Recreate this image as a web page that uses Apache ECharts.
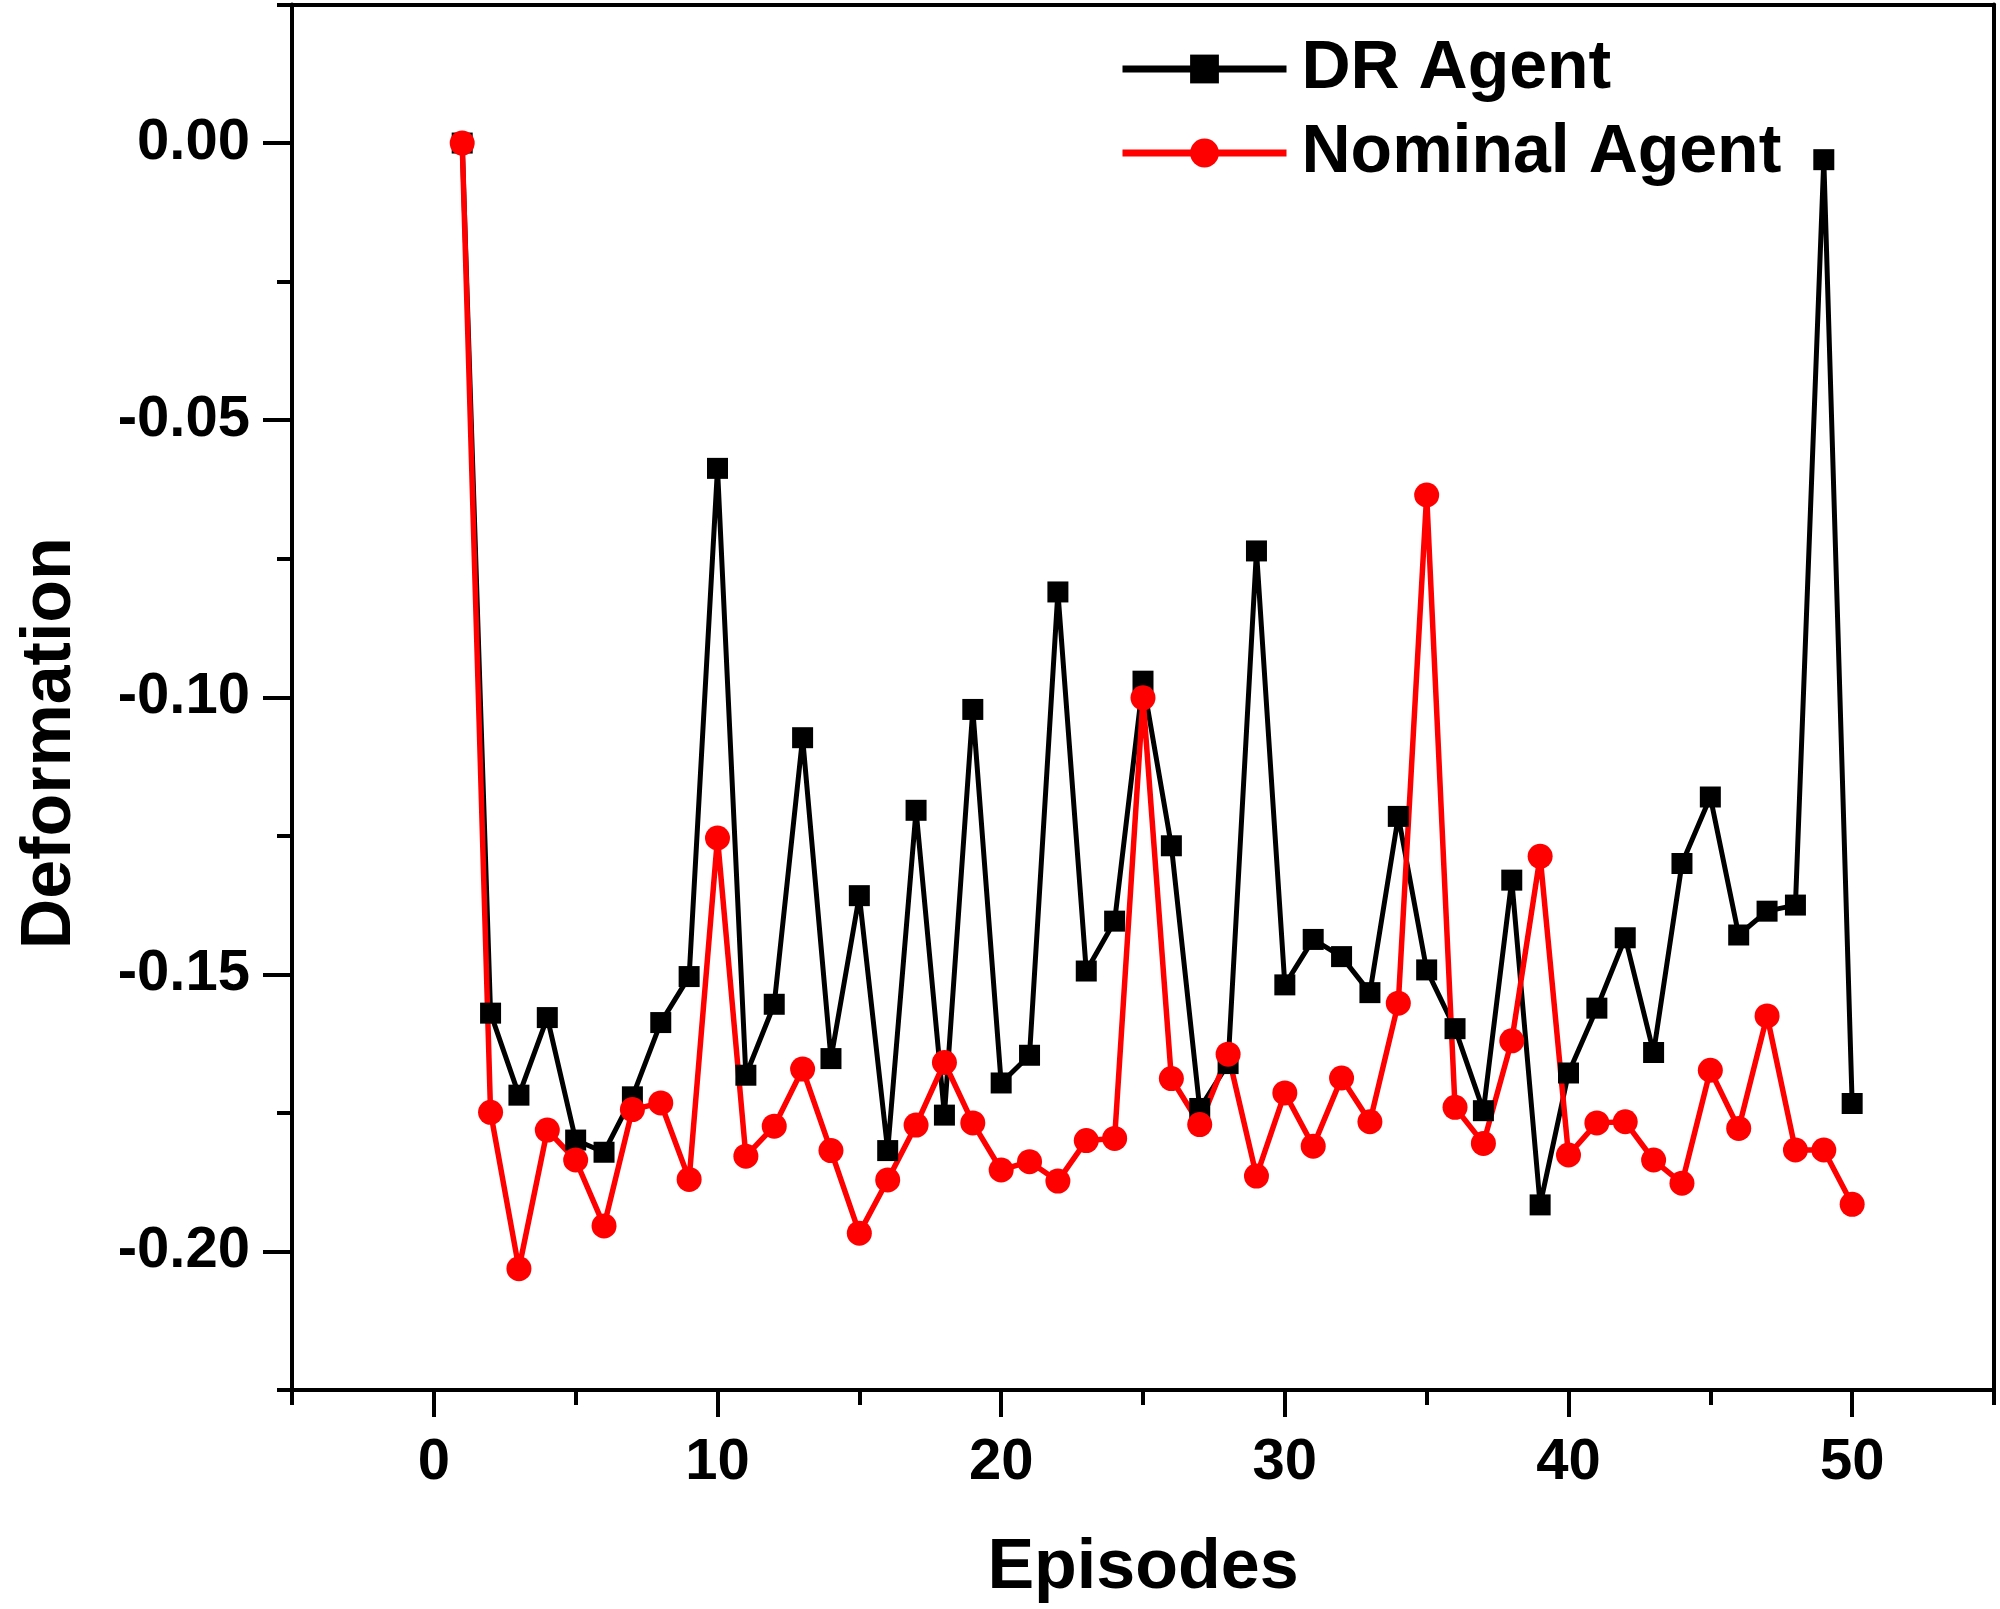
<!DOCTYPE html>
<html>
<head>
<meta charset="utf-8">
<script src="https://cdn.jsdelivr.net/npm/echarts@6/dist/echarts.min.js"></script>
<style>
  html, body { margin: 0; padding: 0; background: #fff; }
  #main { width: 2000px; height: 1609px; }
</style>
</head>
<body>
<div id="main"></div>
<script>
// episodes 1..50
var episodes = [1, 2, 3, 4, 5, 6, 7, 8, 9, 10, 11, 12, 13, 14, 15, 16, 17, 18, 19, 20,
  21, 22, 23, 24, 25, 26, 27, 28, 29, 30, 31, 32, 33, 34, 35, 36, 37, 38, 39, 40,
  41, 42, 43, 44, 45, 46, 47, 48, 49, 50];

// DR Agent (black squares)
var drAgent = [0, -0.1570, -0.1718, -0.1578, -0.1799, -0.1821, -0.1721, -0.1587, -0.1504, -0.0587,
  -0.1682, -0.1554, -0.1073, -0.1652, -0.1358, -0.1818, -0.1204, -0.1754, -0.1022, -0.1696,
  -0.1646, -0.0810, -0.1494, -0.1404, -0.0971, -0.1268, -0.1742, -0.1661, -0.0736, -0.1519,
  -0.1437, -0.1468, -0.1533, -0.1215, -0.1492, -0.1598, -0.1746, -0.1330, -0.1916, -0.1678,
  -0.1561, -0.1434, -0.1641, -0.1300, -0.1180, -0.1429, -0.1386, -0.1375, -0.0030, -0.1733];

// Nominal Agent (red circles)
var nominalAgent = [0, -0.1749, -0.2031, -0.1781, -0.1835, -0.1954, -0.1744, -0.1732, -0.1870, -0.1254,
  -0.1828, -0.1774, -0.1671, -0.1818, -0.1967, -0.1871, -0.1772, -0.1659, -0.1768, -0.1853,
  -0.1838, -0.1873, -0.1800, -0.1796, -0.1001, -0.1688, -0.1771, -0.1644, -0.1864, -0.1714,
  -0.1810, -0.1687, -0.1766, -0.1552, -0.0635, -0.1740, -0.1805, -0.1620, -0.1287, -0.1826,
  -0.1768, -0.1766, -0.1835, -0.1877, -0.1673, -0.1778, -0.1575, -0.1817, -0.1817, -0.1915];

var seriesNames = ['DR Agent', 'Nominal Agent'];

// tick values
var xMajorTicks = [0, 10, 20, 30, 40, 50];
var xMinorTicks = [-5, 5, 15, 25, 35, 45, 55];
var yMajorTicks = [0, -0.05, -0.10, -0.15, -0.20];
var yMinorTicks = [0.025, -0.025, -0.075, -0.125, -0.175, -0.225];

var FONT = 'Liberation Sans';

function pairs(xs, ys) {
  return xs.map(function (x, i) { return [x, ys[i]]; });
}

var chart = echarts.init(document.getElementById('main'), null, { renderer: 'canvas' });

var axisLine = { show: true, onZero: false, lineStyle: { color: '#000', width: 4 } };

var option = {
  backgroundColor: '#fff',
  animation: false,
  grid: { left: 292, right: 6, top: 4.5, bottom: 219, containLabel: false },
  legend: {
    data: seriesNames,
    orient: 'vertical',
    left: 1114,
    top: 30,
    itemWidth: 164,
    itemHeight: 36,
    itemGap: 16,
    lineStyle: { width: 7 },
    textStyle: {
      fontFamily: FONT,
      fontWeight: 'bold',
      fontSize: 68,
      lineHeight: 68,
      color: '#000',
      padding: [0, 0, 0, 10]
    }
  },
  xAxis: [{
    type: 'value',
    min: -5,
    max: 55,
    position: 'bottom',
    name: 'Episodes',
    nameLocation: 'middle',
    nameGap: 144,
    nameTextStyle: { fontFamily: FONT, fontWeight: 'bold', fontSize: 70, color: '#000' },
    axisLine: axisLine,
    axisTick: { show: true, inside: false, length: 27, customValues: xMajorTicks, lineStyle: { color: '#000', width: 4 } },
    axisLabel: {
      customValues: xMajorTicks,
      margin: 44,
      fontFamily: FONT, fontWeight: 'bold', fontSize: 58, color: '#000'
    },
    splitLine: { show: false }
  }, {
    type: 'value',
    min: -5,
    max: 55,
    position: 'bottom',
    axisLine: { show: false, onZero: false },
    axisTick: { show: true, length: 15, customValues: xMinorTicks, lineStyle: { color: '#000', width: 4 } },
    axisLabel: { show: false },
    splitLine: { show: false }
  }, {
    type: 'value',
    min: -5,
    max: 55,
    position: 'top',
    axisLine: axisLine,
    axisTick: { show: false },
    axisLabel: { show: false },
    splitLine: { show: false }
  }],
  yAxis: [{
    type: 'value',
    min: -0.225,
    max: 0.025,
    position: 'left',
    name: 'Deformation',
    nameLocation: 'middle',
    nameGap: 206,
    nameTextStyle: { fontFamily: FONT, fontWeight: 'bold', fontSize: 70, color: '#000', padding: [0, 92, 0, 0] },
    axisLine: axisLine,
    axisTick: { show: true, length: 29, customValues: yMajorTicks, lineStyle: { color: '#000', width: 4 } },
    axisLabel: {
      customValues: yMajorTicks,
      margin: 42,
      formatter: function (v) { return v.toFixed(2); },
      fontFamily: FONT, fontWeight: 'bold', fontSize: 58, color: '#000'
    },
    splitLine: { show: false }
  }, {
    type: 'value',
    min: -0.225,
    max: 0.025,
    position: 'left',
    axisLine: { show: false, onZero: false },
    axisTick: { show: true, length: 15, customValues: yMinorTicks, lineStyle: { color: '#000', width: 4 } },
    axisLabel: { show: false },
    splitLine: { show: false }
  }, {
    type: 'value',
    min: -0.225,
    max: 0.025,
    position: 'right',
    axisLine: axisLine,
    axisTick: { show: false },
    axisLabel: { show: false },
    splitLine: { show: false }
  }],
  series: [{
    name: seriesNames[0],
    type: 'line',
    xAxisIndex: 0,
    yAxisIndex: 0,
    data: pairs(episodes, drAgent),
    symbol: 'rect',
    symbolSize: 21,
    lineStyle: { color: '#000', width: 5 },
    itemStyle: { color: '#000' }
  }, {
    name: seriesNames[1],
    type: 'line',
    xAxisIndex: 0,
    yAxisIndex: 0,
    data: pairs(episodes, nominalAgent),
    symbol: 'circle',
    symbolSize: 25,
    lineStyle: { color: '#ff0000', width: 5.5 },
    itemStyle: { color: '#ff0000' }
  }]
};

chart.setOption(option);
</script>
</body>
</html>
